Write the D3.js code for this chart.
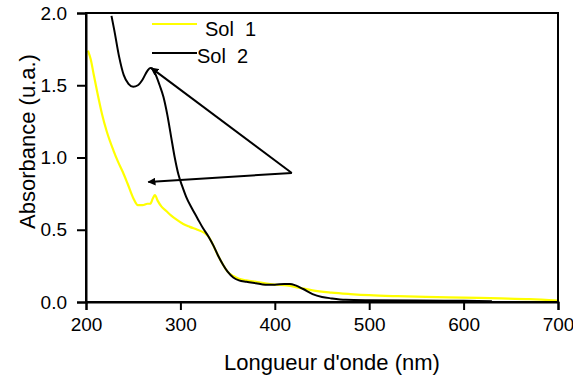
<!DOCTYPE html>
<html><head><meta charset="utf-8">
<script src="https://cdn.jsdelivr.net/npm/d3@7"></script>
<style>body{margin:0;background:#fff}svg{display:block}</style>
</head><body>
<script>
const sol1X = [202,205,208,212,217,222,229,234,239,244,250,255,260,265,268,271,273,276,280,285,290,296,303,310,318,325,330,335,340,345,350,356,362,370,380,390,400,413,425,440,460,480,500,530,560,600,640,670,700];
const sol1Y = [1.74,1.68,1.58,1.45,1.30,1.18,1.05,0.97,0.90,0.82,0.72,0.67,0.67,0.68,0.68,0.72,0.74,0.70,0.66,0.63,0.60,0.57,0.54,0.52,0.50,0.48,0.45,0.39,0.32,0.26,0.21,0.18,0.16,0.15,0.14,0.13,0.12,0.115,0.10,0.08,0.065,0.055,0.047,0.04,0.035,0.03,0.025,0.02,0.01];
const sol2X = [227,230,235,240,245,250,255,260,265,268,271,274,278,282,286,290,294,298,302,306,312,318,324,330,335,340,345,350,356,362,370,380,390,400,410,416,422,430,440,450,460,475,500,550,600,630];
const sol2Y = [1.98,1.88,1.70,1.57,1.51,1.49,1.50,1.54,1.60,1.62,1.61,1.57,1.50,1.42,1.30,1.15,1.00,0.88,0.80,0.73,0.65,0.58,0.51,0.45,0.39,0.32,0.26,0.21,0.17,0.15,0.14,0.13,0.12,0.12,0.125,0.125,0.115,0.09,0.055,0.035,0.025,0.015,0.012,0.01,0.008,0.006];
const xTicks = [200,300,400,500,600,700];
const yTicks = [0.0,0.5,1.0,1.5,2.0];
const seriesNames = ["Sol  1","Sol  2"];
const seriesColors = ["#ffff00","#000000"];
// annotation arrows: common origin and two tips (data coords)
const arrowFrom = [418, 0.893];
const arrowTips = [[269, 1.62],[266, 0.83]];

const FONT="Liberation Sans, Arial, sans-serif";
const W=573,H=379,m={l:86,r:15,t:13,b:77};
const svg=d3.select("body").append("svg").attr("width",W).attr("height",H);
const x=d3.scaleLinear().domain([200,700]).range([m.l,W-m.r]);
const y=d3.scaleLinear().domain([0,2]).range([H-m.b,m.t]);
svg.append("defs").append("marker").attr("id","ah").attr("viewBox","0 0 10 10")
 .attr("refX",9).attr("refY",5).attr("markerWidth",4).attr("markerHeight",4).attr("orient","auto")
 .append("path").attr("d","M0,0L10,5L0,10z").attr("fill","#000");

svg.append("clipPath").attr("id","c").append("rect")
 .attr("x",m.l).attr("y",m.t).attr("width",W-m.l-m.r).attr("height",H-m.t-m.b);
const line=d3.line().x(d=>x(d[0])).y(d=>y(d[1])).curve(d3.curveMonotoneX);
const g=svg.append("g").attr("clip-path","url(#c)");
g.append("path").datum(sol1X.map((v,i)=>[v,sol1Y[i]])).attr("d",line)
 .attr("fill","none").attr("stroke",seriesColors[0]).attr("stroke-width",2.2);
g.append("path").datum(sol2X.map((v,i)=>[v,sol2Y[i]])).attr("d",line)
 .attr("fill","none").attr("stroke",seriesColors[1]).attr("stroke-width",2);

// frame
svg.append("rect").attr("x",m.l).attr("y",m.t).attr("width",W-m.l-m.r).attr("height",H-m.t-m.b)
 .attr("fill","none").attr("stroke","#000").attr("stroke-width",2);

const xa=svg.append("g").attr("transform",`translate(0,${H-m.b})`)
 .call(d3.axisBottom(x).tickValues(xTicks).tickSize(8).tickPadding(8).tickFormat(d3.format("d")));
const ya=svg.append("g").attr("transform",`translate(${m.l},0)`)
 .call(d3.axisLeft(y).tickValues(yTicks).tickSize(9).tickPadding(10).tickFormat(d3.format(".1f")));
[xa,ya].forEach(a=>{a.select(".domain").attr("stroke-width",2);
 a.selectAll(".tick line").attr("stroke-width",2);
 a.selectAll("text").attr("font-family",FONT).attr("font-size",19).attr("fill","#000");});

svg.append("text").attr("x",332).attr("y",370).attr("text-anchor","middle")
 .attr("font-family",FONT).attr("font-size",22).text("Longueur d'onde (nm)");
svg.append("text").attr("transform",`translate(35,141.5) rotate(-90)`).attr("text-anchor","middle")
 .attr("font-family",FONT).attr("font-size",22).text("Absorbance (u.a.)");

// legend
const lg=[[24,205,36],[53,197,63]];
seriesNames.forEach((n,i)=>{
 svg.append("line").attr("x1",152).attr("x2",197).attr("y1",lg[i][0]).attr("y2",lg[i][0])
  .attr("stroke",seriesColors[i]).attr("stroke-width",2);
 svg.append("text").attr("x",lg[i][1]).attr("y",lg[i][2]).attr("xml:space","preserve")
  .attr("font-family",FONT).attr("font-size",20).text(n);
});

// arrows
arrowTips.forEach(t=>{
 svg.append("line").attr("x1",x(arrowFrom[0])).attr("y1",y(arrowFrom[1]))
  .attr("x2",x(t[0])).attr("y2",y(t[1])).attr("stroke","#000").attr("stroke-width",2)
  .attr("marker-end","url(#ah)");
});
</script>
</body></html>
